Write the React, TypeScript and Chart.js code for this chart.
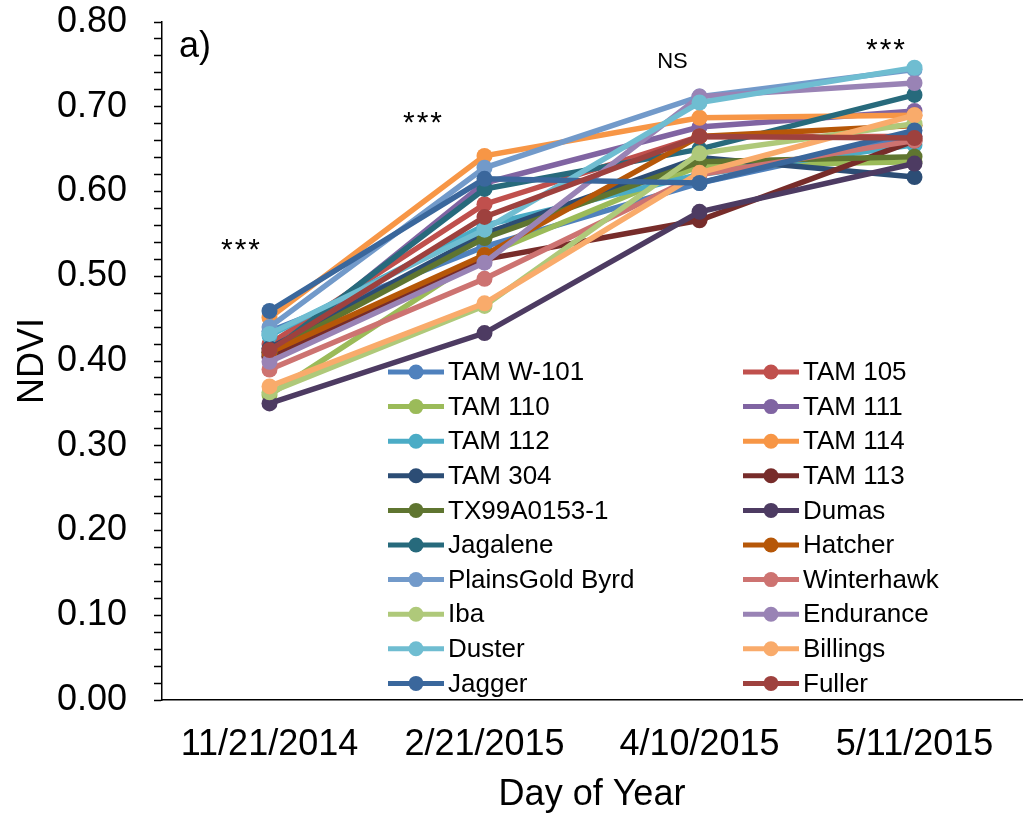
import React, { useEffect, useRef } from 'react';
import { Chart, registerables } from 'chart.js';

Chart.register(...registerables);

const FONT = '"Liberation Sans", Arial, sans-serif';

const categories = ['11/21/2014', '2/21/2015', '4/10/2015', '5/11/2015'];

const seriesNames = [
  'TAM W-101', 'TAM 105', 'TAM 110', 'TAM 111', 'TAM 112', 'TAM 114', 'TAM 304', 'TAM 113',
  'TX99A0153-1', 'Dumas', 'Jagalene', 'Hatcher', 'PlainsGold Byrd', 'Winterhawk', 'Iba',
  'Endurance', 'Duster', 'Billings', 'Jagger', 'Fuller',
];

const seriesColors = [
  '#4F81BD', '#C0504D', '#9BBB59', '#8064A2', '#4BACC6', '#F79646', '#2C4D75', '#772C2A',
  '#5F7530', '#4D3B62', '#276A7C', '#B65708', '#729ACA', '#CD7371', '#AFC97A',
  '#9983B5', '#6FBDD1', '#F9AB6B', '#3A679C', '#9E413E',
];

const tamW101 = [0.435, 0.535, 0.61, 0.665];
const tam105 = [0.42, 0.585, 0.665, 0.665];
const tam110 = [0.36, 0.525, 0.63, 0.635];
const tam111 = [0.405, 0.61, 0.676, 0.695];
const tam112 = [0.43, 0.56, 0.62, 0.655];
const tam114 = [0.451, 0.642, 0.687, 0.69];
const tam304 = [0.415, 0.55, 0.64, 0.617];
const tam113 = [0.405, 0.52, 0.566, 0.66];
const tx99 = [0.41, 0.545, 0.635, 0.641];
const dumas = [0.35, 0.433, 0.576, 0.633];
const jagalene = [0.41, 0.603, 0.65, 0.714];
const hatcher = [0.41, 0.525, 0.665, 0.678];
const plainsGold = [0.44, 0.628, 0.712, 0.744];
const winterhawk = [0.39, 0.497, 0.62, 0.66];
const iba = [0.363, 0.465, 0.645, 0.68];
const endurance = [0.399, 0.516, 0.712, 0.728];
const duster = [0.432, 0.555, 0.705, 0.746];
const billings = [0.37, 0.468, 0.622, 0.69];
const jagger = [0.459, 0.615, 0.61, 0.672];
const fuller = [0.413, 0.57, 0.665, 0.663];

const seriesValues = [
  tamW101, tam105, tam110, tam111, tam112, tam114, tam304, tam113,
  tx99, dumas, jagalene, hatcher, plainsGold, winterhawk, iba,
  endurance, duster, billings, jagger, fuller,
];

const yMin = 0;
const yMax = 0.8;
const yMinorStep = 0.02;

const sigLabels = ['***', '***', 'NS', '***'];
const sigLevels = [0.539, 0.689, 0.753, 0.776];

const annotationPlugin = {
  id: 'annotations',
  afterDraw(chart: any) {
    const { ctx } = chart;
    const xs = chart.scales.x;
    const ys = chart.scales.y;
    const offsets = [-29, -62, -27, -29];
    ctx.save();
    ctx.fillStyle = '#000';
    ctx.textAlign = 'center';
    ctx.textBaseline = 'middle';
    sigLabels.forEach((lab, i) => {
      const x = xs.getPixelForValue(i) + offsets[i];
      const y = ys.getPixelForValue(sigLevels[i]);
      if (lab === '***') {
        ctx.font = `30px ${FONT}`;
        (ctx as any).letterSpacing = '2px';
        ctx.fillText(lab, x + 1, y + 8);
      } else {
        ctx.font = `22px ${FONT}`;
        (ctx as any).letterSpacing = '0px';
        ctx.fillText(lab, x, y);
      }
    });
    (ctx as any).letterSpacing = '0px';
    ctx.font = `36px ${FONT}`;
    ctx.textAlign = 'left';
    ctx.fillText('a)', chart.chartArea.left + 17, ys.getPixelForValue(0.77));
    ctx.restore();
  },
};

const legendPlugin = {
  id: 'customLegend',
  afterDraw(chart: any) {
    const { ctx } = chart;
    const colX = [388, 743];
    const rowY0 = 372;
    const rowH = 34.6;
    ctx.save();
    ctx.font = `26px ${FONT}`;
    ctx.textBaseline = 'middle';
    ctx.textAlign = 'left';
    seriesNames.forEach((name, i) => {
      const x = colX[i % 2];
      const y = rowY0 + Math.floor(i / 2) * rowH;
      ctx.strokeStyle = seriesColors[i];
      ctx.lineWidth = 5;
      ctx.lineCap = 'butt';
      ctx.beginPath();
      ctx.moveTo(x, y);
      ctx.lineTo(x + 56, y);
      ctx.stroke();
      ctx.fillStyle = seriesColors[i];
      ctx.beginPath();
      ctx.arc(x + 28, y, 7.5, 0, Math.PI * 2);
      ctx.fill();
      ctx.fillStyle = '#000';
      ctx.fillText(name, x + 60, y + 1);
    });
    ctx.restore();
  },
};

export default function App() {
  const ref = useRef<HTMLCanvasElement | null>(null);

  useEffect(() => {
    if (!ref.current) return;
    const chart = new Chart(ref.current, {
      type: 'line',
      data: {
        labels: categories,
        datasets: seriesNames.map((name, i) => ({
          label: name,
          data: seriesValues[i],
          borderColor: seriesColors[i],
          backgroundColor: seriesColors[i],
          pointBackgroundColor: seriesColors[i],
          pointBorderColor: seriesColors[i],
          borderWidth: 5.5,
          pointRadius: 8,
          pointBorderWidth: 0,
          tension: 0,
          fill: false,
          order: -i,
        })),
      },
      options: {
        animation: false,
        responsive: false,
        maintainAspectRatio: false,
        layout: { padding: { left: 0, right: 2, top: 22, bottom: 0 } },
        plugins: {
          legend: { display: false },
          tooltip: { enabled: false },
        },
        scales: {
          x: {
            type: 'category',
            offset: true,
            grid: { display: true, drawOnChartArea: false, drawTicks: false },
            border: { display: true, color: '#000', width: 1.5 },
            ticks: {
              color: '#000',
              font: { family: FONT, size: 36 },
              padding: 23,
              maxRotation: 0,
              autoSkip: false,
            },
            title: {
              display: true,
              text: 'Day of Year',
              color: '#000',
              font: { family: FONT, size: 36, lineHeight: 1 },
              padding: { top: 0, bottom: 0 },
            },
            afterFit: (s: any) => {
              s.height = 113;
              s.paddingLeft = 0;
              s.paddingRight = 0;
            },
          },
          y: {
            type: 'linear',
            min: yMin,
            max: yMax,
            grid: {
              display: true,
              drawOnChartArea: false,
              drawTicks: true,
              tickLength: 8,
              tickColor: '#000',
              tickWidth: 1.5,
            },
            border: { display: true, color: '#000', width: 1.5 },
            ticks: {
              stepSize: yMinorStep,
              maxTicksLimit: 100,
              autoSkip: false,
              color: '#000',
              font: { family: FONT, size: 36 },
              padding: 27,
              callback: (v: any, i: number) => (i % 5 === 0 ? Number(v).toFixed(2) : ''),
            },
            title: {
              display: true,
              text: 'NDVI',
              color: '#000',
              font: { family: FONT, size: 36, lineHeight: 1 },
              padding: { top: 15, bottom: 0 },
            },
            afterFit: (s: any) => {
              s.width = 162;
              s.paddingTop = 0;
              s.paddingBottom = 0;
            },
          },
        },
      },
      plugins: [annotationPlugin, legendPlugin],
    } as any);
    return () => chart.destroy();
  }, []);

  return (
    <div style={{ position: 'fixed', left: 0, top: 0, width: 1030, height: 813, background: '#fff' }}>
      <canvas ref={ref} width={1030} height={813} style={{ width: 1030, height: 813 }} />
    </div>
  );
}
